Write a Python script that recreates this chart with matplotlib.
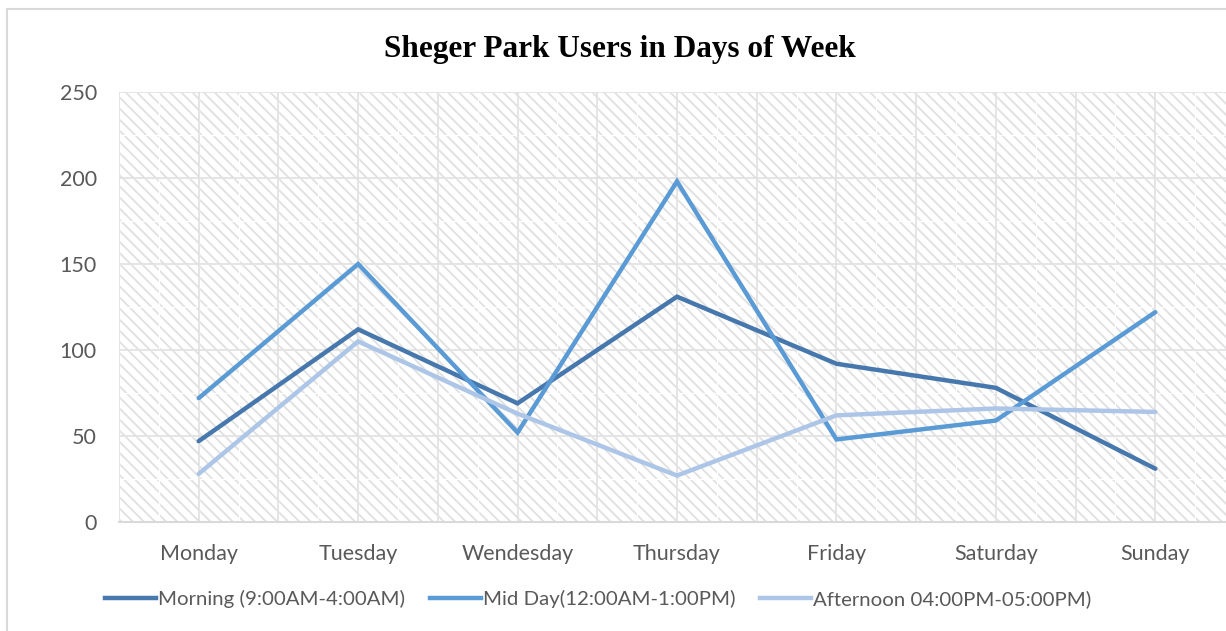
import matplotlib
matplotlib.use("Agg")
import matplotlib.pyplot as plt
from matplotlib.patches import Rectangle
from matplotlib.lines import Line2D

days = ["Monday", "Tuesday", "Wendesday", "Thursday", "Friday", "Saturday", "Sunday"]
morning = [47, 112, 69, 131, 92, 78, 31]
mid_day = [72, 150, 52, 198, 48, 59, 122]
afternoon = [28, 105, 63, 27, 62, 66, 64]
series_labels = ["Morning (9:00AM-4:00AM)", "Mid Day(12:00AM-1:00PM)", "Afternoon 04:00PM-05:00PM)"]
series_colors = ["#4677ad", "#5b9bd5", "#adc6e8"]
y_ticks = [0, 50, 100, 150, 200, 250]

plt.rcParams["hatch.color"] = "#e0e0e0"
plt.rcParams["hatch.linewidth"] = 1.3

W, H = 1226, 631
fig = plt.figure(figsize=(W / 100, H / 100), dpi=100)
fig.patch.set_facecolor("white")

# outer chart border
fig.add_artist(Rectangle((7 / W, -0.05), 1.2, 1 - 9 / H + 0.05, transform=fig.transFigure,
                         fill=False, edgecolor="#d9d9d9", lw=1.5))

ax = fig.add_axes([119 / W, 1 - 522 / H, (1235 - 119) / W, (522 - 92) / H])
ax.set_facecolor("white")
# diagonal-stripe plot area fill
ax.add_patch(Rectangle((0, 0), 1, 1, transform=ax.transAxes, facecolor="white",
                       edgecolor="#e0e0e0", lw=0, hatch="\\\\\\", zorder=0.1))

x = list(range(len(days)))
ax.set_xlim(-0.5, len(days) - 0.5)
ax.set_ylim(0, 250)

# light seams in the stripe fill
for xv in [i * 0.25 - 0.5 for i in range(4 * len(days) + 1)]:
    ax.axvline(xv, color="white", lw=0.9, zorder=0.2)
for yv in range(0, 251, 25):
    ax.axhline(yv, color="white", lw=0.9, zorder=0.2)

# major gridlines every half category and every 50 users
for xv in [i * 0.5 - 0.5 for i in range(2 * len(days) + 1)]:
    ax.axvline(xv, color="#e0e0e0", lw=1.2, zorder=0.3)
for yv in y_ticks:
    ax.axhline(yv, color="#e0e0e0", lw=1.2, zorder=0.3)

for vals, lab, col in zip([morning, mid_day, afternoon], series_labels, series_colors):
    ax.plot(x, vals, color=col, lw=3.2, label=lab, solid_capstyle="round",
            solid_joinstyle="miter", zorder=3)

ax.set_xticks(x)
ax.set_xticklabels(days)
ax.set_yticks(y_ticks)
ax.set_yticklabels([str(v) for v in y_ticks])
ax.tick_params(which="both", length=0)
ax.tick_params(axis="x", pad=16, labelsize=15.5, labelcolor="#595959")
ax.tick_params(axis="y", pad=16, labelsize=15.5, labelcolor="#595959")
for lbl in ax.get_xticklabels() + ax.get_yticklabels():
    lbl.set_fontfamily("Lato")

for s in ["top", "left", "right"]:
    ax.spines[s].set_visible(False)
ax.spines["bottom"].set_color("#d9d9d9")
ax.spines["bottom"].set_linewidth(1.5)
ax.spines["bottom"].set_zorder(2)

fig.text(620 / W, 1 - 49 / H, "Sheger Park Users in Days of Week", ha="center", va="center",
         fontsize=22.5, fontweight="bold", family="Liberation Serif", color="black")

handles = [Line2D([], [], color=c, lw=3.2) for c in series_colors]
fig.legend(handles, series_labels, loc="center", bbox_to_anchor=(598 / W, 1 - 599 / H),
           ncol=3, frameon=False, handlelength=2.5, handletextpad=0.1, columnspacing=1.2,
           prop={"family": "Lato", "size": 14.7}, labelcolor="#595959")

fig.savefig("out.png", dpi=100)
